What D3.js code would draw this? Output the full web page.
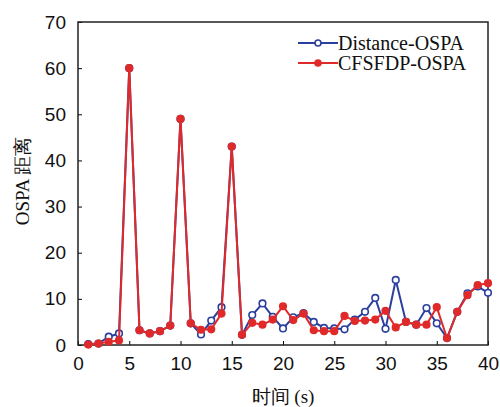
<!DOCTYPE html>
<html>
<head>
<meta charset="utf-8">
<script src="https://cdn.jsdelivr.net/npm/d3@7"></script>
<style>
  body { margin: 0; background: #fff; }
  svg { font-family: "Liberation Serif", "Times New Roman", serif; }
</style>
</head>
<body>
<script>
//==============================================================================
// DATA
//==============================================================================

const times = d3.range(1, 41);
const distanceOspa = [0.2, 0.3, 1.8, 2.5, 60, 3.2, 2.5, 3, 4.2, 49,
  4.7, 2.3, 5.3, 8.2, 43, 2.2, 6.5, 9, 6.1, 3.6,
  6, 6.9, 5, 3.7, 3.6, 3.4, 5.5, 7.2, 10.2, 3.5,
  14.1, 5, 4.4, 8, 4.7, 1.5, 7.2, 11.2, 12.7, 11.3];
const cfsfdpOspa = [0.1, 0.3, 0.7, 1, 60, 3.2, 2.5, 3, 4.2, 49,
  4.7, 3.3, 3.4, 6.8, 43, 2.2, 4.8, 4.4, 5.5, 8.4,
  5.4, 6.8, 3.2, 3, 3, 6.3, 5.2, 5.3, 5.5, 7.4,
  3.8, 5, 4.4, 4.4, 8.2, 1.5, 7.2, 10.8, 13, 13.4];
const xTicks = [0, 5, 10, 15, 20, 25, 30, 35, 40];
const yTicks = [0, 10, 20, 30, 40, 50, 60, 70];

//==============================================================================
// PARAMETERS
//==============================================================================

const margin = { top: 22, right: 12, bottom: 62, left: 78 };
const width = 500 - margin.left - margin.right;
const height = 407 - margin.top - margin.bottom;

const blue = '#2b3f9e';
const red = '#e02a2a';

const svg = d3.select('body').append('svg')
  .attr('width', 500)
  .attr('height', 407);

const g = svg.append('g')
  .attr('transform', `translate(${margin.left},${margin.top})`);

const x = d3.scaleLinear().domain([0, 40]).range([0, width]);
const y = d3.scaleLinear().domain([0, 70]).range([height, 0]);

const line = d3.line()
  .x((d, i) => x(times[i]))
  .y(d => y(d));

//==============================================================================
// DRAW
//==============================================================================

// axes with inward ticks
g.append('g')
  .attr('transform', `translate(0,${height})`)
  .call(d3.axisBottom(x).tickValues(xTicks).tickSizeInner(-4).tickSizeOuter(0).tickPadding(12))
  .call(a => a.select('.domain').remove())
  .call(a => a.selectAll('text').attr('font-size', 19).attr('fill', '#111'));

g.append('g')
  .call(d3.axisLeft(y).tickValues(yTicks).tickSizeInner(-4).tickSizeOuter(0).tickPadding(12))
  .call(a => a.select('.domain').remove())
  .call(a => a.selectAll('text').attr('font-size', 19).attr('fill', '#111'));

// frame
g.append('rect')
  .attr('width', width)
  .attr('height', height)
  .attr('fill', 'none')
  .attr('stroke', '#222')
  .attr('stroke-width', 1.5);

// series
const series = [
  { name: 'Distance-OSPA', values: distanceOspa, color: blue, fill: '#fff' },
  { name: 'CFSFDP-OSPA', values: cfsfdpOspa, color: red, fill: red }
];

series.forEach(s => {
  g.append('path')
    .datum(s.values)
    .attr('fill', 'none')
    .attr('stroke', s.color)
    .attr('stroke-width', 2)
    .attr('d', line);

  g.append('g')
    .selectAll('circle')
    .data(s.values)
    .enter()
    .append('circle')
    .attr('cx', (d, i) => x(times[i]))
    .attr('cy', d => y(d))
    .attr('r', 3.3)
    .attr('fill', s.fill)
    .attr('stroke', s.color)
    .attr('stroke-width', 1.6);
});

// legend
const legend = g.append('g')
  .attr('transform', `translate(${220},${21})`);

series.forEach((s, i) => {
  const row = legend.append('g').attr('transform', `translate(0,${i * 20})`);
  row.append('line')
    .attr('x1', 0).attr('x2', 40)
    .attr('stroke', s.color).attr('stroke-width', 2);
  row.append('circle')
    .attr('cx', 20).attr('r', 3)
    .attr('fill', s.fill).attr('stroke', s.color).attr('stroke-width', 1.6);
  row.append('text')
    .attr('x', 40).attr('dy', '0.35em')
    .attr('font-size', 20)
    .attr('fill', '#111')
    .text(s.name);
});

// axis titles
svg.append('text')
  .attr('x', margin.left + width / 2)
  .attr('y', 403)
  .attr('text-anchor', 'middle')
  .attr('font-size', 19)
  .attr('fill', '#111')
  .text('时间 (s)');

svg.append('text')
  .attr('transform', `translate(29,${181}) rotate(-90)`)
  .attr('text-anchor', 'middle')
  .attr('font-size', 19)
  .attr('fill', '#111')
  .text('OSPA 距离');
</script>
</body>
</html>
